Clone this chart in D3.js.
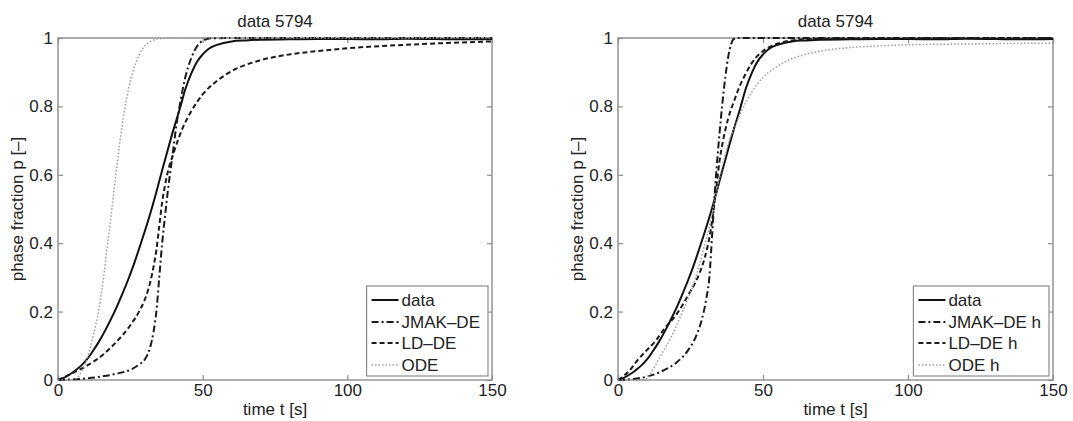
<!DOCTYPE html>
<html>
<head>
<meta charset="utf-8">
<script src="https://cdn.jsdelivr.net/npm/d3@7"></script>
<style>
  body { margin: 0; background: #fff; }
  svg { display: block; font-family: "Liberation Sans", Arial, Helvetica, sans-serif; }
  .axis path.domain { display: none; }
  .axis line { stroke: #8c8c8c; stroke-width: 1.2; }
  .axis text { font-size: 17px; fill: #222; }
  .frame { fill: none; stroke: #8c8c8c; stroke-width: 1.4; }
  .title, .axis-title, .legend text { font-size: 17px; fill: #222; }
  .legend rect { fill: #fff; stroke: #8c8c8c; stroke-width: 1.2; }
  .curve { fill: none; }
</style>
</head>
<body>
<div id="chart"></div>
<script>
/*
 * Values: [time t in s, phase fraction p]
 */
const measured = [[0,0],[2,0.006],[4,0.016],[6,0.028],[8,0.042],[10,0.06],[12,0.084],[14,0.11],
  [16,0.14],[18,0.173],[20,0.208],[22,0.247],[24,0.288],[26,0.333],[28,0.383],[30,0.435],[32,0.49],
  [34,0.55],[36,0.613],[38,0.675],[40,0.735],[42,0.79],[44,0.85],[46,0.895],[48,0.93],[50,0.952],
  [52,0.968],[55,0.98],[60,0.99],[65,0.993],[70,0.995],[80,0.996],[90,0.997],[100,0.997],
  [110,0.996],[120,0.998],[130,0.997],[140,0.996],[150,0.997]];

// left panel fits
const jmakDE = [[0,0],[10,0.005],[15,0.01],[20,0.018],[25,0.03],[28,0.045],[30,0.06],[31,0.075],
  [32,0.1],[33,0.14],[34,0.2],[35,0.3],[36,0.4],[37,0.48],[38,0.555],[39,0.62],[40,0.685],
  [41,0.75],[42,0.8],[44,0.885],[46,0.94],[48,0.975],[50,0.992],[53,0.999],[60,1],[150,1]];

const ldDE = [[0,0],[5,0.02],[10,0.042],[15,0.07],[20,0.11],[25,0.16],[28,0.2],[30,0.235],[32,0.29],
  [33,0.33],[34,0.38],[35,0.45],[36,0.52],[37,0.57],[38,0.61],[40,0.665],[43,0.735],[46,0.785],
  [50,0.835],[55,0.875],[60,0.903],[70,0.935],[80,0.952],[90,0.962],[100,0.97],[120,0.98],[150,0.99]];

const ode = [[0,0],[5,0],[7,0.01],[9,0.04],[10,0.06],[11,0.09],[12,0.125],[13,0.16],[14,0.2],
  [15,0.255],[16,0.315],[17,0.39],[18,0.455],[19,0.53],[20,0.6],[21,0.67],[22,0.735],[23,0.79],
  [24,0.835],[25,0.875],[26,0.905],[28,0.95],[30,0.977],[32,0.99],[35,0.998],[40,1],[150,1]];

// right panel fits
const jmakDEh = [[0,0],[5,0.003],[10,0.01],[15,0.025],[20,0.05],[24,0.085],[27,0.13],[29,0.18],
  [30.5,0.24],[31.5,0.3],[32.5,0.43],[33,0.5],[34,0.62],[35,0.72],[36,0.81],[37,0.885],[38,0.945],
  [39,0.982],[40,0.997],[42,1],[150,1]];

const ldDEh = [[0,0],[2,0.012],[4,0.028],[6,0.05],[8,0.07],[10,0.088],[13,0.115],[16,0.15],[20,0.19],
  [24,0.245],[28,0.31],[30,0.36],[32,0.44],[33,0.5],[34,0.57],[35,0.64],[36,0.69],[38,0.765],
  [40,0.815],[42,0.86],[44,0.895],[46,0.925],[48,0.947],[50,0.962],[53,0.977],[56,0.986],
  [60,0.993],[70,0.998],[150,1]];

const odeH = [[0,0],[9,0],[10.5,0.01],[12,0.03],[14,0.06],[16,0.09],[18,0.12],[20,0.155],[22,0.195],
  [24,0.235],[26,0.28],[28,0.335],[30,0.4],[31,0.43],[32,0.47],[33,0.51],[34,0.55],[35,0.59],
  [36,0.625],[38,0.69],[40,0.735],[42,0.775],[44,0.81],[46,0.84],[48,0.865],[50,0.885],[54,0.912],
  [58,0.932],[63,0.948],[70,0.962],[80,0.972],[90,0.977],[100,0.98],[125,0.983],[150,0.985]];

const leftNames = ['data', 'JMAK–DE', 'LD–DE', 'ODE'];
const rightNames = ['data', 'JMAK–DE h', 'LD–DE h', 'ODE h'];
const xTicks = [0, 50, 100, 150];
const yTicks = [0, 0.2, 0.4, 0.6, 0.8, 1];
const chartTitle = 'data 5794';

/*
 * Line styles, in plot order
 */
const lineStyles = [
  { color: '#111', width: 2, dash: null },
  { color: '#1a1a1a', width: 2, dash: '7,3,2,3' },
  { color: '#1a1a1a', width: 2, dash: '5,3' },
  { color: '#9a9a9a', width: 1.5, dash: '1.5,2' }
];

const containerWidth = 1073;
const containerHeight = 421;
const plotTop = 38;
const plotHeight = 342;

const svg = d3.select('#chart')
  .append('svg')
    .attr('width', containerWidth)
    .attr('height', containerHeight);

drawPanel(58, 434, [measured, jmakDE, ldDE, ode], leftNames);
drawPanel(618, 435, [measured, jmakDEh, ldDEh, odeH], rightNames);

function drawPanel(left, width, series, names) {
  const g = svg.append('g')
      .attr('transform', `translate(${left}, ${plotTop})`);

  const x = d3.scaleLinear().domain([0, 150]).range([0, width]);
  const y = d3.scaleLinear().domain([0, 1]).range([plotHeight, 0]);

  // inward ticks on all four sides, like a boxed axes
  g.append('g')
      .attr('class', 'axis')
      .attr('transform', `translate(0, ${plotHeight})`)
      .call(d3.axisBottom(x).tickValues(xTicks).tickSizeInner(-5).tickSizeOuter(0).tickPadding(4));
  g.append('g')
      .attr('class', 'axis')
      .call(d3.axisTop(x).tickValues(xTicks).tickSizeInner(-5).tickSizeOuter(0).tickFormat(''));
  g.append('g')
      .attr('class', 'axis')
      .call(d3.axisLeft(y).tickValues(yTicks).tickSizeInner(-5).tickSizeOuter(0).tickPadding(5)
        .tickFormat(d3.format('~g')));
  g.append('g')
      .attr('class', 'axis')
      .attr('transform', `translate(${width}, 0)`)
      .call(d3.axisRight(y).tickValues(yTicks).tickSizeInner(-5).tickSizeOuter(0).tickFormat(''));

  g.append('rect')
      .attr('class', 'frame')
      .attr('width', width)
      .attr('height', plotHeight);

  const line = d3.line()
      .x((d) => x(d[0]))
      .y((d) => y(d[1]))
      .curve(d3.curveMonotoneX);

  g.selectAll('.curve')
    .data(series)
    .join('path')
      .attr('class', 'curve')
      .attr('d', line)
      .attr('stroke', (d, i) => lineStyles[i].color)
      .attr('stroke-width', (d, i) => lineStyles[i].width)
      .attr('stroke-dasharray', (d, i) => lineStyles[i].dash);

  // titles
  g.append('text')
      .attr('class', 'title')
      .attr('text-anchor', 'middle')
      .attr('x', width / 2)
      .attr('y', -11)
      .text(chartTitle);

  g.append('text')
      .attr('class', 'axis-title')
      .attr('text-anchor', 'middle')
      .attr('x', width / 2)
      .attr('y', plotHeight + 35)
      .text('time t [s]');

  g.append('text')
      .attr('class', 'axis-title')
      .attr('text-anchor', 'middle')
      .attr('transform', `translate(${-35}, ${plotHeight / 2}) rotate(-90)`)
      .text('phase fraction p [–]');

  // legend, anchored to the lower right corner
  const legend = g.append('g').attr('class', 'legend');
  const box = legend.append('rect');
  const rowY = [14, 36, 57, 79];
  const labels = legend.selectAll('text')
    .data(names)
    .join('text')
      .attr('x', 35)
      .attr('y', (d, i) => rowY[i])
      .attr('dy', '0.35em')
      .text((d) => d);
  legend.selectAll('line')
    .data(names)
    .join('line')
      .attr('x1', 5)
      .attr('x2', 32)
      .attr('y1', (d, i) => rowY[i])
      .attr('y2', (d, i) => rowY[i])
      .attr('stroke', (d, i) => lineStyles[i].color)
      .attr('stroke-width', (d, i) => lineStyles[i].width)
      .attr('stroke-dasharray', (d, i) => lineStyles[i].dash);

  const textWidth = d3.max(labels.nodes(), (n) => n.getComputedTextLength());
  const boxWidth = 35 + textWidth + 8;
  const boxHeight = 90;
  box.attr('width', boxWidth).attr('height', boxHeight);
  legend.attr('transform', `translate(${width - 4 - boxWidth}, ${plotHeight - 4 - boxHeight})`);
}
</script>
</body>
</html>
